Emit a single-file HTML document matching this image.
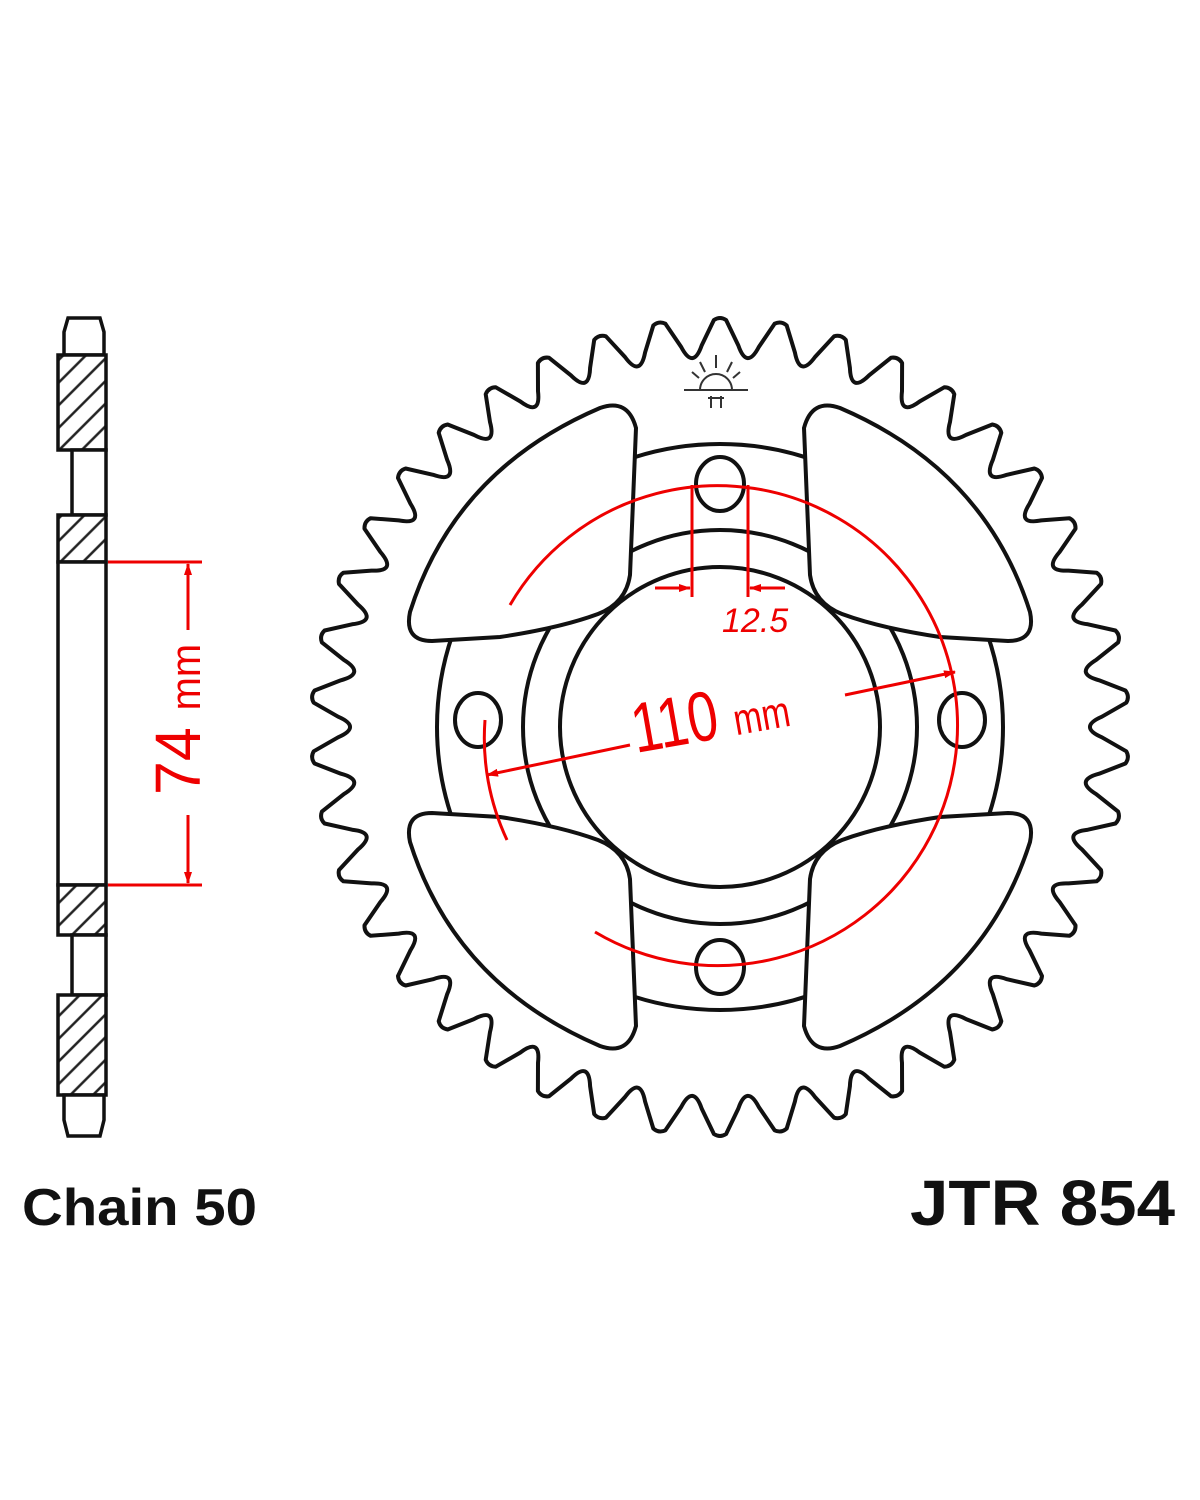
<!DOCTYPE html>
<html><head><meta charset="utf-8"><style>
html,body{margin:0;padding:0;background:#fff;}
svg{display:block;}
</style></head><body>
<svg id="s" width="1200" height="1500" viewBox="0 0 1200 1500" xmlns="http://www.w3.org/2000/svg">
<defs>
<pattern id="h" patternUnits="userSpaceOnUse" width="16" height="16" patternTransform="rotate(-45)">
<rect width="16" height="16" fill="#fff"/><line x1="0" y1="8" x2="16" y2="8" stroke="#222" stroke-width="2.5"/></pattern>
<marker id="a" markerWidth="12" markerHeight="8" refX="11" refY="4" orient="auto" markerUnits="userSpaceOnUse"><path d="M0,0 L12,4 L0,8 Z" fill="#e00"/></marker>
</defs>
<g id="teeth"></g>
<g fill="none" stroke="#111" stroke-width="4">
<circle cx="720" cy="727" r="283"/>
<circle cx="720" cy="727" r="197"/>
<circle cx="720" cy="727" r="160"/>
<g fill="#fff">
<path id="w" d="M600,408 Q628,398 636,428 L630,575 Q626,603 598,614 Q560,628 500,637 L432,641 Q404,641 410,612 Q455,470 600,408 Z"/>
<use href="#w" transform="translate(1440,0) scale(-1,1)"/>
<use href="#w" transform="translate(0,1454) scale(1,-1)"/>
<use href="#w" transform="translate(1440,1454) scale(-1,-1)"/>
</g>
<ellipse cx="720" cy="484" rx="24" ry="27"/>
<ellipse cx="720" cy="967" rx="24" ry="27"/>
<ellipse cx="478" cy="720" rx="23" ry="27"/>
<ellipse cx="962" cy="720" rx="23" ry="27"/>
</g>
<g stroke="#333" stroke-width="2" fill="none">
<path d="M700,390 A16,16 0 0 1 732,390"/>
<line x1="684" y1="390" x2="748" y2="390"/>
<line x1="716" y1="355" x2="716" y2="368"/><line x1="700" y1="362" x2="705" y2="372"/><line x1="732" y1="362" x2="727" y2="372"/>
<line x1="692" y1="372" x2="699" y2="378"/><line x1="740" y1="372" x2="733" y2="378"/>
<path d="M711,396 v12 M721,396 v12 M708,398 h16"/>
</g>
<g stroke="#e00" stroke-width="3" fill="none">
<path d="M510,605 A240,240 0 1 1 595,932"/>
<path d="M485,720 A240,240 0 0 0 507,840"/>
<line x1="692" y1="485" x2="692" y2="597"/>
<line x1="748" y1="485" x2="748" y2="597"/>
<line x1="655" y1="588" x2="690" y2="588" marker-end="url(#a)"/>
<line x1="785" y1="588" x2="750" y2="588" marker-end="url(#a)"/>
<line x1="630" y1="745" x2="487" y2="775" marker-end="url(#a)"/>
<line x1="845" y1="695" x2="955" y2="672" marker-end="url(#a)"/>
<line x1="108" y1="562" x2="202" y2="562"/>
<line x1="108" y1="885" x2="202" y2="885"/>
<line x1="188" y1="630" x2="188" y2="564" marker-end="url(#a)"/>
<line x1="188" y1="815" x2="188" y2="883" marker-end="url(#a)"/>
</g>
<g fill="#e00" font-family="Liberation Sans, sans-serif">
<text x="722" y="632" font-size="34" font-style="italic">12.5</text>
<g transform="rotate(-10 636 753)"><text x="636" y="753" font-size="64" transform="translate(636 753) scale(0.85 1.1) translate(-636 -753)">110 <tspan font-size="40">mm</tspan></text></g>
<text transform="translate(200,795) rotate(-90) scale(1.05 1.1)" font-size="58">74 <tspan font-size="38">mm</tspan></text>
</g>
<g stroke="#111" stroke-width="3.5">
<path d="M68,318 L100,318 L104,332 L104,355 L64,355 L64,332 Z" fill="#fff"/>
<rect x="58" y="355" width="48" height="95" fill="url(#h)"/>
<rect x="72" y="450" width="34" height="65" fill="#fff"/>
<rect x="58" y="515" width="48" height="47" fill="url(#h)"/>
<rect x="58" y="562" width="48" height="323" fill="#fff"/>
<rect x="58" y="885" width="48" height="50" fill="url(#h)"/>
<rect x="72" y="935" width="34" height="60" fill="#fff"/>
<rect x="58" y="995" width="48" height="100" fill="url(#h)"/>
<path d="M64,1095 L104,1095 L104,1120 L100,1136 L68,1136 L64,1120 Z" fill="#fff"/>
</g>
<g font-family="Liberation Sans, sans-serif" font-weight="bold" fill="#111">
<text x="22" y="1225" font-size="52" textLength="235" lengthAdjust="spacingAndGlyphs">Chain 50</text>
<text x="910" y="1225" font-size="64" textLength="265" lengthAdjust="spacingAndGlyphs">JTR 854</text>
</g>
</svg>
<script>
(function(){
var cx=720,cy=727,N=42,R=410,r=374,d="";
var st=2*Math.PI/N;
function P(a,rr){return [cx+rr*Math.cos(a),cy+rr*Math.sin(a)];}
function f(p){return p[0].toFixed(1)+","+p[1].toFixed(1);}
for(var i=0;i<N;i++){
 var a0=-Math.PI/2+i*st;
 var t1=P(a0-st*0.1,R-3), tt=P(a0,R+1), t2=P(a0+st*0.1,R-3);
 var f1=P(a0+st*0.32,r+8), rm=P(a0+st*0.5,r-16), f2=P(a0+st*0.68,r+8);
 var n1=P(a0+st*0.9,R-3);
 if(i==0) d+="M"+f(t1);
 d+="Q"+f(tt)+" "+f(t2)+"L"+f(f1)+"Q"+f(rm)+" "+f(f2)+"L"+f(n1);
}
d+="Z";
var g=document.getElementById("teeth");
var p=document.createElementNS("http://www.w3.org/2000/svg","path");
p.setAttribute("d",d);p.setAttribute("fill","#fff");p.setAttribute("stroke","#111");p.setAttribute("stroke-width","4");p.setAttribute("stroke-linejoin","round");
g.appendChild(p);
})();
</script>
</body></html>
